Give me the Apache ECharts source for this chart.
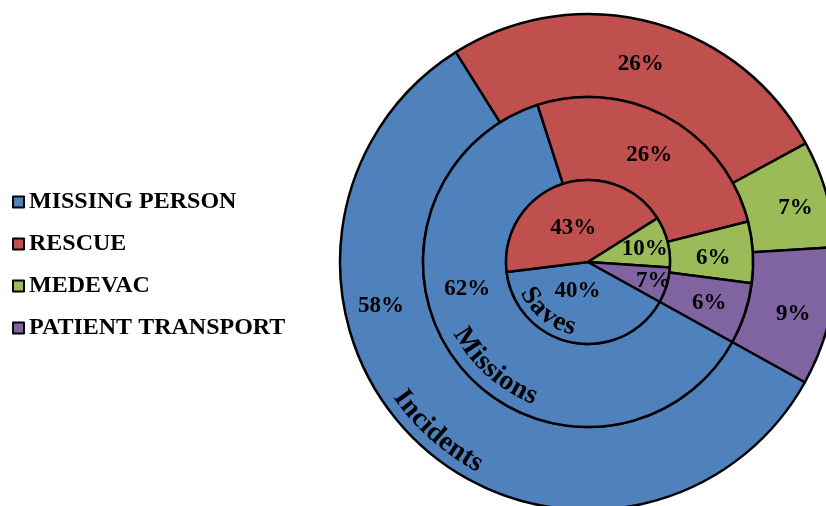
<!DOCTYPE html>
<html>
<head>
<meta charset="utf-8">
<script src="https://cdn.jsdelivr.net/npm/echarts@6/dist/echarts.min.js"></script>
<style>
  html, body { margin: 0; padding: 0; background: #fff; }
  #chart { width: 826px; height: 506px; }
</style>
</head>
<body>
<div id="chart"></div>
<script>
var categories = ['MISSING PERSON', 'RESCUE', 'MEDEVAC', 'PATIENT TRANSPORT']
var saves = [40, 43, 10, 7]
var missions = [62, 26, 6, 6]
var incidents = [58, 26, 7, 9]
var ringNames = ['Saves', 'Missions', 'Incidents']

var colors = ['#4F81BD', '#C0504D', '#9BBB59', '#8064A2']
var serif = '"Liberation Serif", "DejaVu Serif", serif'
var cx = 588, cy = 262
var startAngle = -29 // first slice begins a little below 3 o'clock

function toData(vals) {
  return vals.map(function (v, i) { return { name: categories[i], value: v } })
}

var labelStyle = {
  show: true,
  position: 'inside',
  formatter: '{c}%',
  color: '#000',
  fontFamily: serif,
  fontWeight: 'bold',
  fontSize: 23,
  textBorderWidth: 0
}

// label nudges (dx, dy) so the blue labels sit clear of the ring names, like the original
function ring(name, vals, r0, r1, shift) {
  return {
    name: name,
    type: 'pie',
    center: [cx, cy],
    radius: [r0, r1],
    startAngle: startAngle,
    clockwise: true,
    avoidLabelOverlap: false,
    silent: true,
    itemStyle: { borderColor: '#000', borderWidth: 2.5 },
    label: labelStyle,
    labelLine: { show: false },
    labelLayout: function (p) {
      var d = shift[p.dataIndex] || [0, 0]
      return { dx: d[0], dy: d[1] }
    },
    emphasis: { disabled: true },
    data: toData(vals)
  }
}

// text along the ring (series names), one glyph at a time
var ctx = document.createElement('canvas').getContext('2d')
function arcText(txt, angleDeg, r, size) {
  var font = 'bold ' + size + 'px ' + serif
  ctx.font = font
  var widths = txt.split('').map(function (ch) { return ctx.measureText(ch).width })
  var total = widths.reduce(function (a, b) { return a + b }, 0)
  var a0 = angleDeg * Math.PI / 180
  var s = 0
  var out = []
  txt.split('').forEach(function (ch, i) {
    var mid = s + widths[i] / 2
    s += widths[i]
    var a = a0 + (total / 2 - mid) / r
    out.push({
      type: 'text',
      x: cx + r * Math.cos(a),
      y: cy + r * Math.sin(a),
      rotation: Math.PI / 2 - a,
      silent: true,
      z: 100,
      style: {
        text: ch,
        x: 0, y: 0,
        font: font,
        fill: '#000',
        textAlign: 'center',
        textVerticalAlign: 'middle',
        shadowColor: 'rgba(0,0,0,0.55)',
        shadowBlur: 4,
        shadowOffsetX: 2,
        shadowOffsetY: 2
      }
    })
  })
  return out
}

var graphics = []
  .concat(arcText(ringNames[0], 128.7, 67, 27))
  .concat(arcText(ringNames[1], 131.5, 145, 28))
  .concat(arcText(ringNames[2], 131.5, 230, 28))

var myChart = echarts.init(document.getElementById('chart'), null, { renderer: 'canvas' })
var option = {
  animation: false,
  color: colors,
  legend: {
    orient: 'vertical',
    left: 7,
    top: 185,
    icon: 'rect',
    itemWidth: 11,
    itemHeight: 11,
    itemGap: 18,
    itemTextGap: 6,
    selectedMode: false,
    itemStyle: { borderColor: '#000', borderWidth: 2 },
    textStyle: {
      color: '#000',
      fontFamily: serif,
      fontWeight: 'bold',
      fontSize: 24,
      lineHeight: 24
    },
    data: categories
  },
  graphic: graphics,
  series: [
    ring(ringNames[2], incidents, 165, 248, [[-63, -108], [0, 5], [6, 4], [1, 6]]),
    ring(ringNames[1], missions, 82, 165, [[-23, -53], [0, 4], [-1, 4], [1, 2]]),
    ring(ringNames[0], saves, 0, 82, [[-2, -14], [0, 8], [14, -2], [23, 7]])
  ]
}
myChart.setOption(option)
</script>
</body>
</html>
